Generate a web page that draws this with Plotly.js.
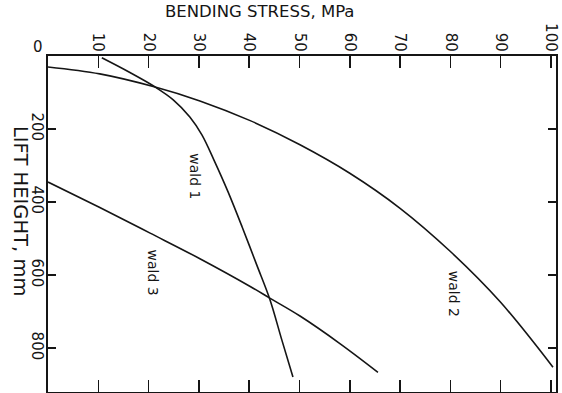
<!DOCTYPE html>
<html>
<head>
<meta charset="utf-8">
<script src="https://cdn.plot.ly/plotly-3.0.1.min.js"></script>
<style>html,body{margin:0;padding:0;background:#fff;}#chart{width:562px;height:393px;}</style>
</head>
<body>
<div id="chart"></div>
<script>
// Bending stress (MPa) vs lift height (mm)
const wald1Stress = [10.7, 16.1, 21.3, 24.9, 28.2, 30.6, 33.0, 35.8, 38.6, 41.5, 44.1, 46.5, 48.7];
const wald1Height = [5, 44, 85, 120, 167, 216, 285, 372, 468, 572, 666, 778, 879];
const wald2Stress = [0, 10.3, 21.3, 30.2, 40.2, 50.1, 60.0, 70.0, 79.9, 89.9, 100.4];
const wald2Height = [30, 49, 85, 123, 177, 243, 321, 417, 534, 673, 852];
const wald3Stress = [0, 10.3, 20.3, 30.2, 40.2, 44.1, 50.1, 58.1, 65.6];
const wald3Height = [345, 415, 485, 555, 631, 663, 712, 788, 866];
const stressTicks = [0, 10, 20, 30, 40, 50, 60, 70, 80, 90, 100];
const stressTickText = ['', '10', '20', '30', '40', '50', '60', '70', '80', '90', '100'];
const heightTicks = [200, 400, 600, 800];
const seriesNames = ['wald 1', 'wald 2', 'wald 3'];

const ink = '#151515';
const fontFam = 'DejaVu Sans, sans-serif';
const line = {color: ink, width: 1.6, shape: 'spline', smoothing: 1};

const traces = [
  {x: wald1Stress, y: wald1Height, name: seriesNames[0], mode: 'lines', line: line},
  {x: wald2Stress, y: wald2Height, name: seriesNames[1], mode: 'lines', line: line},
  {x: wald3Stress, y: wald3Height, name: seriesNames[2], mode: 'lines', line: line}
];

const layout = {
  width: 562, height: 393,
  margin: {l: 48, r: 6, t: 56, b: 1},
  paper_bgcolor: '#ffffff', plot_bgcolor: '#ffffff',
  showlegend: false,
  font: {family: fontFam, color: ink},
  xaxis: {
    side: 'top', range: [0, 101], tickvals: stressTicks, ticktext: stressTickText,
    ticks: 'inside', ticklen: 12, tickwidth: 1.5, tickcolor: ink,
    showline: true, linecolor: ink, linewidth: 2, mirror: 'ticks',
    showgrid: false, zeroline: false, tickangle: 90, ticklabelstandoff: -3,
    tickfont: {size: 15, family: fontFam, color: ink}
  },
  yaxis: {
    range: [920, 0], tickvals: heightTicks,
    ticks: 'inside', ticklen: 8, tickwidth: 1.5, tickcolor: ink,
    showline: true, linecolor: ink, linewidth: 2, mirror: 'ticks',
    showgrid: false, zeroline: false, tickangle: 90, ticklabelstandoff: -4,
    tickfont: {size: 15, family: fontFam, color: ink}
  },
  annotations: [
    {text: 'BENDING STRESS, MPa', xref: 'paper', yref: 'paper', x: 0.417, y: 1.131,
     xanchor: 'center', yanchor: 'middle', showarrow: false, font: {size: 16.5, family: fontFam, color: ink}},
    {text: 'LIFT HEIGHT, mm', xref: 'paper', yref: 'paper', x: -0.054, y: 0.54,
     xanchor: 'center', yanchor: 'middle', textangle: 90, showarrow: false, font: {size: 19.5, family: fontFam, color: ink}},
    {text: '0', xref: 'paper', yref: 'paper', x: -0.0197, y: 1.027,
     xanchor: 'center', yanchor: 'middle', showarrow: false, font: {size: 15, family: fontFam, color: ink}},
    {text: seriesNames[0], x: 29.2, y: 329, textangle: 90, showarrow: false, font: {size: 14, family: fontFam, color: ink}},
    {text: seriesNames[1], x: 80.6, y: 652, textangle: 90, showarrow: false, font: {size: 14, family: fontFam, color: ink}},
    {text: seriesNames[2], x: 20.8, y: 592, textangle: 90, showarrow: false, font: {size: 14, family: fontFam, color: ink}}
  ]
};

Plotly.newPlot('chart', traces, layout, {displayModeBar: false, staticPlot: true});
</script>
</body>
</html>
